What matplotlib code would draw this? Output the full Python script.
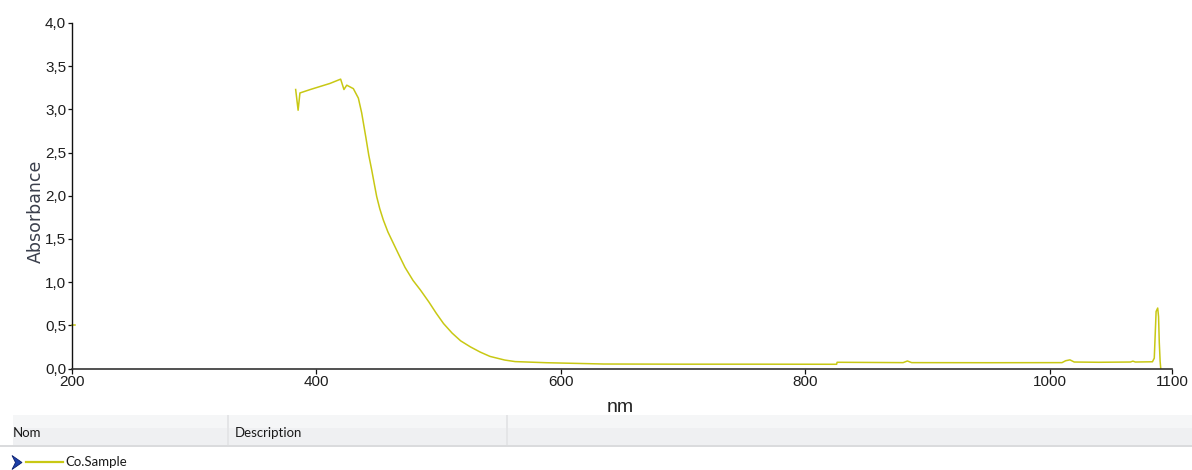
import matplotlib
matplotlib.use("Agg")
import matplotlib.pyplot as plt
from matplotlib.patches import Rectangle, Polygon
from matplotlib.lines import Line2D
from matplotlib.ticker import FuncFormatter
from matplotlib import font_manager

# UV-Vis spectrum of the cobalt sample
wavelength_nm = [383, 385, 386.5, 395, 411, 419.8, 422.5, 424.8, 430.2, 434.3,
                 437, 440.5, 442.8, 445.2, 447.3, 449.3, 451.8, 454.7, 458.5, 462.9,
                 468, 472.5, 479, 485, 492, 498, 504, 511, 518, 526,
                 534, 542, 554, 562.5, 588, 635, 700, 760, 825.6, 826,
                 880, 883.5, 887, 950, 1010, 1013, 1016.5, 1020, 1040, 1066,
                 1068, 1070, 1084, 1085.5, 1087, 1088.3, 1089, 1089.6, 1090.3, 1090.8]
absorbance = [3.23, 2.99, 3.19, 3.23, 3.30, 3.35, 3.23, 3.28, 3.24, 3.13,
              2.96, 2.67, 2.47, 2.30, 2.14, 1.99, 1.85, 1.72, 1.58, 1.45,
              1.30, 1.17, 1.02, 0.91, 0.77, 0.64, 0.52, 0.41, 0.32, 0.25,
              0.19, 0.14, 0.098, 0.08, 0.067, 0.052, 0.05, 0.05, 0.049, 0.072,
              0.068, 0.087, 0.068, 0.067, 0.068, 0.09, 0.10, 0.075, 0.072, 0.075,
              0.085, 0.075, 0.078, 0.12, 0.66, 0.70, 0.60, 0.30, 0.08, 0.0]

x_ticks = [200, 400, 600, 800, 1000, 1100]
y_ticks = [0.0, 0.5, 1.0, 1.5, 2.0, 2.5, 3.0, 3.5, 4.0]
series_name = "Co.Sample"
column_headers = ["Nom", "Description"]

LINE_COLOR = "#c8c814"
W, H = 1192, 470

available = {f.name for f in font_manager.fontManager.ttflist}
narrow = "Liberation Sans Narrow" if "Liberation Sans Narrow" in available else "Liberation Sans"

fig = plt.figure(figsize=(W / 100, H / 100), dpi=100)
ax = fig.add_axes([72 / W, (H - 368.5) / H, 1100 / W, 345.5 / H])

ax.plot(wavelength_nm, absorbance, color=LINE_COLOR, lw=1.1, solid_joinstyle="round")
# small series marker on the y axis
ax.plot([200, 202.8], [0.5, 0.5], color=LINE_COLOR, lw=1.1, clip_on=False)

ax.set_xlim(200, 1100)
ax.set_ylim(0, 4.0)
ax.set_xticks(x_ticks)
ax.set_yticks(y_ticks)
ax.yaxis.set_major_formatter(FuncFormatter(lambda v, p: f"{v:.1f}".replace(".", ",")))
ax.xaxis.set_major_formatter(FuncFormatter(lambda v, p: f"{v:.0f}"))

for s in ("top", "right"):
    ax.spines[s].set_visible(False)
ax.spines["left"].set_color("#111111")
ax.spines["bottom"].set_color("#333333")
ax.spines["left"].set_linewidth(1.0)
ax.spines["bottom"].set_linewidth(1.2)

ax.tick_params(axis="y", direction="out", length=3.2, width=0.9, pad=1,
               labelsize=11, labelcolor="#1e1e1e", color="#111111")
ax.tick_params(axis="x", direction="out", length=3.8, width=0.9, pad=1,
               labelsize=11, labelcolor="#1e1e1e", color="#111111")
for lab in ax.get_xticklabels() + ax.get_yticklabels():
    lab.set_family([narrow, "DejaVu Sans"])

fig.text(36 / W, 1 - 211 / H, "Absorbance", rotation=90, ha="center", va="center",
         fontsize=12.5, color="#3a3f4c", family="DejaVu Sans")
fig.text(620 / W, 1 - 407 / H, "nm", ha="center", va="center",
         fontsize=14, color="#222222", family=[narrow, "DejaVu Sans"])

# list panel below the chart
def px_rect(x0, y0, x1, y1, **kw):
    fig.patches.append(Rectangle((x0 / W, 1 - y1 / H), (x1 - x0) / W, (y1 - y0) / H,
                                 transform=fig.transFigure, figure=fig, **kw))

px_rect(13, 415, W, 428, facecolor="#f5f6f7", edgecolor="none")
px_rect(13, 428, W, 445, facecolor="#eff0f2", edgecolor="none")
px_rect(0, 445, W, 447, facecolor="#dadbdd", edgecolor="none")
for sx in (228, 507):
    px_rect(sx - 1, 415, sx + 1, 445, facecolor="#e4e5e7", edgecolor="none")

fig.text(13 / W, 1 - 433 / H, column_headers[0], ha="left", va="center",
         fontsize=9.5, color="#1a1a1a", family=["Lato", "DejaVu Sans"])
fig.text(235 / W, 1 - 433 / H, column_headers[1], ha="left", va="center",
         fontsize=9.5, color="#1a1a1a", family=["Lato", "DejaVu Sans"])

arrow = [(12, 455.5), (22, 462.5), (12, 469.5), (15.5, 462.5)]
fig.patches.append(Polygon([(x / W, 1 - y / H) for x, y in arrow], closed=True,
                           transform=fig.transFigure, figure=fig,
                           facecolor="#1b3fa8", edgecolor="#0a1f70", lw=0.6))
fig.lines.append(Line2D([26 / W, 63 / W], [1 - 462 / H, 1 - 462 / H],
                        transform=fig.transFigure, figure=fig,
                        color=LINE_COLOR, lw=1.6))
fig.text(65 / W, 1 - 462 / H, series_name, ha="left", va="center",
         fontsize=9.5, color="#1a1a1a", family=["Lato", "DejaVu Sans"])

fig.savefig("out.png", dpi=100, facecolor="white")
